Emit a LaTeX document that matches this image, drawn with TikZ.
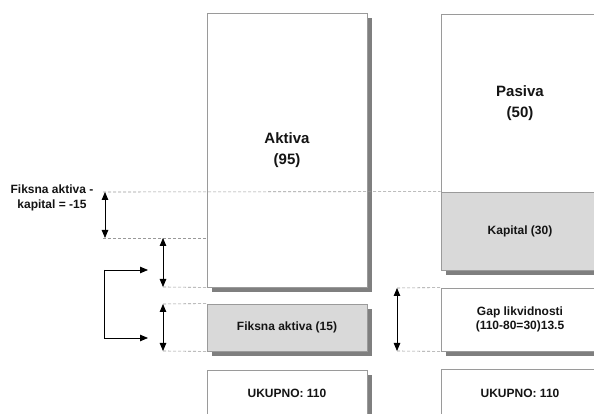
\documentclass[tikz,border=0pt]{standalone}
\usepackage{fontspec}
\setmainfont{Liberation Sans}
\usetikzlibrary{arrows.meta,shadows}
\definecolor{boxline}{HTML}{9A9A9A}
\definecolor{shade}{HTML}{7F7F7F}
\definecolor{panelfill}{HTML}{D9D9D9}
\definecolor{ink}{HTML}{141414}
\definecolor{guide}{HTML}{999999}
\begin{document}
\begin{tikzpicture}[x=1pt,y=1pt,
  block/.style={draw=boxline, line width=0.8pt, fill=white, inner sep=0pt,
    align=center, text=ink, font=\bfseries\fontsize{12}{14}\selectfont,
    drop shadow={shadow xshift=5pt, shadow yshift=-5pt, opacity=1, fill=shade}},
  bigtext/.style={font=\bfseries\fontsize{15}{21}\selectfont},
  shaded/.style={fill=panelfill},
  guideline/.style={draw=guide, line width=0.6pt, dash pattern=on 3pt off 2pt},
  dim/.style={draw=black, line width=0.8pt, {Triangle[width=6.5pt,length=8pt]}-{Triangle[width=6.5pt,length=8pt]}},
  pointer/.style={draw=black, line width=0.8pt, -{Triangle[width=6.5pt,length=8pt]}}]
\useasboundingbox (0,0) rectangle (594,414);
\clip (0,0) rectangle (594,414);

% balance sheet blocks
\node[block, bigtext, minimum width=160, minimum height=274] (akt) at (287,264) {Aktiva\\(95)};
\node[block, bigtext, minimum width=158, minimum height=178] (pas) at (520,311) {Pasiva\\(50)};
\node[block, shaded, minimum width=158, minimum height=78] (kap) at (520,183) {Kapital (30)};
\node[block, shaded, minimum width=160, minimum height=47] (fik) at (287,86.5) {Fiksna aktiva (15)};
\node[block, minimum width=158, minimum height=63] (gap) at (520,94.5) {Gap likvidnosti\\(110-80=30)13.5};
\node[block, minimum width=160, minimum height=47] (ukl) at (287,20.5) {UKUPNO: 110};
\node[block, minimum width=158, minimum height=48] (ukr) at (520,21) {UKUPNO: 110};

% label of the left dimension
\node[text=ink, font=\bfseries\fontsize{12}{15}\selectfont, align=center] (lbl) at (52,216) {Fiksna aktiva -\\kapital = -15};

% guide line end points
\coordinate (g1) at (103,222);
\coordinate (g2) at (103,176);
\coordinate (g3) at (163,127);
\coordinate (g4) at (163,110);
\coordinate (g5) at (163,63);
\coordinate (g6) at (397,126);
\coordinate (g7) at (397,63);

% dashed guide lines
\draw[guideline] (g1) -- (kap.north west);
\draw[guideline] (g2) -- (g2 -| akt.west);
\draw[guideline] (g3) -- (akt.south west);
\draw[guideline] (g4) -- (fik.north west);
\draw[guideline] (g5) -- (fik.south west);
\draw[guideline] (g6) -- (gap.north west);
\draw[guideline] (g7) -- (gap.south west);

% dimension arrows
\coordinate (a1t) at (105,222);
\coordinate (a1b) at (105,176);
\coordinate (a2t) at (163,176);
\draw[dim] (a1t) -- (a1b);
\draw[dim] (a2t) -- (g3);
\draw[dim] (g4) -- (g5);
\draw[dim] (g6) -- (g7);

% bracket linking the two spans
\coordinate (b1) at (148,144);
\coordinate (b2) at (104,144);
\coordinate (b3) at (104,76);
\coordinate (b4) at (148,76);
\draw[pointer] (b2) -- (b1);
\draw[pointer] (b2) -- (b3) -- (b4);
\end{tikzpicture}
\end{document}
